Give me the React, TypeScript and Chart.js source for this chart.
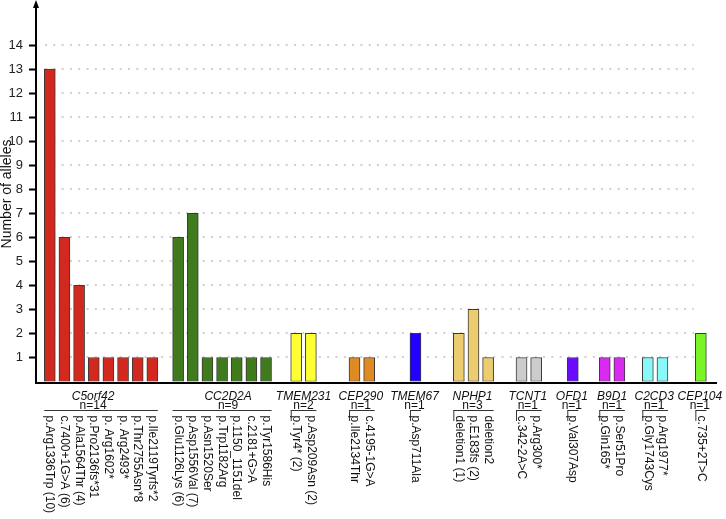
import React, { useEffect, useRef } from 'react';
import { Chart, registerables } from 'chart.js';

Chart.register(...registerables);

// ---------------- DATA ----------------
const genes = ['C5orf42', 'CC2D2A', 'TMEM231', 'CEP290', 'TMEM67', 'NPHP1', 'TCNT1', 'OFD1', 'B9D1', 'C2CD3', 'CEP104'];
const geneN = [14, 9, 2, 1, 1, 3, 1, 1, 1, 1, 1];

const c5orf42Variants = ['p.Arg1336Trp (10)', 'c.7400+1G>A (6)', 'p.Ala1564Thr (4)', 'p.Pro2136fs*31', 'p. Arg1602*', 'p. Arg2493*', 'p.Thr2755Asn*8', 'p.Ile2119Tyrfs*2'];
const c5orf42Alleles = [13, 6, 4, 1, 1, 1, 1, 1];

const cc2d2aVariants = ['p.Glu1126Lys (6)', 'p.Asp1556Val (7)', 'p.Asn1520Ser', 'p.Trp1182Arg', 'p.1150_1151del', 'c.2181+G>A', 'p.Tyr1586His'];
const cc2d2aAlleles = [6, 7, 1, 1, 1, 1, 1];

const tmem231Variants = ['p.Tyr4* (2)', 'p.Asp209Asn (2)'];
const tmem231Alleles = [2, 2];

const cep290Variants = ['p.Ile2134Thr', 'c.4195-1G>A'];
const cep290Alleles = [1, 1];

const tmem67Variants = ['p.Asp711Ala'];
const tmem67Alleles = [2];

const nphp1Variants = ['deletion1 (1)', 'p.E183fs (2)', 'deletion2'];
const nphp1Alleles = [2, 3, 1];

const tcnt1Variants = ['c.342-2A>C', 'p.Arg300*'];
const tcnt1Alleles = [1, 1];

const ofd1Variants = ['p.Val307Asp'];
const ofd1Alleles = [1];

const b9d1Variants = ['p.Gln165*', 'p.Ser51Pro'];
const b9d1Alleles = [1, 1];

const c2cd3Variants = ['p.Gly1743Cys', 'p.Arg1977*'];
const c2cd3Alleles = [1, 1];

const cep104Variants = ['c.735+2T>C'];
const cep104Alleles = [2];

const yTickValues = [1, 2, 3, 4, 5, 6, 7, 8, 9, 10, 11, 12, 13, 14];
const yTitle = 'Number of alleles';

const variantsByGene = [c5orf42Variants, cc2d2aVariants, tmem231Variants, cep290Variants, tmem67Variants, nphp1Variants, tcnt1Variants, ofd1Variants, b9d1Variants, c2cd3Variants, cep104Variants];
const allelesByGene = [c5orf42Alleles, cc2d2aAlleles, tmem231Alleles, cep290Alleles, tmem67Alleles, nphp1Alleles, tcnt1Alleles, ofd1Alleles, b9d1Alleles, c2cd3Alleles, cep104Alleles];

// ---------------- STYLE / LAYOUT ----------------
const geneColors = ['#d3281e', '#3f7b1c', '#ffff33', '#e08a24', '#2200ff', '#ebcd70', '#cccccc', '#6a0aff', '#d82af0', '#88f8f8', '#7af526'];
// extra spacing (in bar pitches) inserted before each gene group
const groupGap = [0, 0.76, 1.06, 1.98, 2.16, 1.96, 1.28, 1.5, 1.18, 0.94, 1.62];
// horizontal nudge (px) of gene name / n= text relative to the group centre
const groupLabelShift = [-8, 6, 0, -1, -1, -1, -1, -1, 0, -1, -1];

const CANVAS_W = 726;
const CANVAS_H = 519;
const PLOT_LEFT = 36;
const PLOT_RIGHT = 718;
const ZERO_Y = 381.5;
const TOP_Y = 2;
const Y14_PX = 34.3;
const BAR_PITCH = 14.65;
const FIRST_CENTER = 49.8;
const BAR_W = 11;
const TITLE_X = 7;
const TITLE_Y = 194;
const FONT = '"Liberation Sans", Arial, Helvetica, sans-serif';

const unitPx = (ZERO_Y - Y14_PX) / 14;
const yMax = (ZERO_Y - TOP_Y) / unitPx;
const xMin = -(FIRST_CENTER - PLOT_LEFT) / BAR_PITCH;
const xMax = xMin + (PLOT_RIGHT - PLOT_LEFT) / BAR_PITCH;

type Bar = { x: number; y: number; label: string; gene: number };
const bars: Bar[] = [];
const groups: { start: number; end: number }[] = [];
{
  let prevEnd = -1;
  genes.forEach((_, gi) => {
    const start = gi === 0 ? 0 : prevEnd + 1 + groupGap[gi];
    const vals = allelesByGene[gi];
    vals.forEach((v, j) => bars.push({ x: start + j, y: v, label: variantsByGene[gi][j], gene: gi }));
    const end = start + vals.length - 1;
    groups.push({ start, end });
    prevEnd = end;
  });
}

const annotate = {
  id: 'annotate',
  beforeDatasetsDraw(chart: any) {
    const { ctx } = chart;
    const ys = chart.scales.y;
    ctx.save();
    ctx.strokeStyle = '#d0d0d0';
    ctx.lineWidth = 2;
    ctx.setLineDash([2, 6.3]);
    for (const v of yTickValues) {
      const y = Math.round(ys.getPixelForValue(v));
      ctx.beginPath();
      ctx.moveTo(45, y);
      ctx.lineTo(694, y);
      ctx.stroke();
    }
    ctx.restore();
  },
  afterDraw(chart: any) {
    const { ctx } = chart;
    const xs = chart.scales.x;
    const ys = chart.scales.y;
    const y0 = ys.getPixelForValue(0);
    ctx.save();
    // axes
    ctx.strokeStyle = '#000';
    ctx.fillStyle = '#000';
    ctx.lineWidth = 2;
    ctx.beginPath();
    ctx.moveTo(PLOT_LEFT - 1, y0 + 1.5);
    ctx.lineTo(717, y0 + 1.5);
    ctx.stroke();
    ctx.beginPath();
    ctx.moveTo(PLOT_LEFT, y0 + 2.5);
    ctx.lineTo(PLOT_LEFT, 6);
    ctx.stroke();
    ctx.beginPath();
    ctx.moveTo(PLOT_LEFT, 0);
    ctx.lineTo(PLOT_LEFT - 3, 8);
    ctx.lineTo(PLOT_LEFT + 3, 8);
    ctx.closePath();
    ctx.fill();

    // y title
    ctx.save();
    ctx.fillStyle = '#111';
    ctx.font = `14px ${FONT}`;
    ctx.translate(TITLE_X, TITLE_Y);
    ctx.rotate(-Math.PI / 2);
    ctx.textAlign = 'center';
    ctx.textBaseline = 'middle';
    ctx.fillText(yTitle, 0, 0);
    ctx.restore();

    // group labels
    ctx.fillStyle = '#111';
    ctx.strokeStyle = '#333';
    ctx.lineWidth = 1;
    groups.forEach((g, gi) => {
      const left = xs.getPixelForValue(g.start) - BAR_W / 2;
      const right = xs.getPixelForValue(g.end) + BAR_W / 2;
      const cx = (left + right) / 2 + groupLabelShift[gi];
      ctx.textAlign = 'center';
      ctx.textBaseline = 'alphabetic';
      ctx.font = `italic 12px ${FONT}`;
      ctx.fillText(genes[gi], cx, 399.5);
      ctx.font = `12px ${FONT}`;
      ctx.fillText(`n=${geneN[gi]}`, cx, 408.5);
      ctx.beginPath();
      ctx.moveTo(left, 410.5);
      ctx.lineTo(right, 410.5);
      if (allelesByGene[gi].length <= 3) {
        ctx.moveTo(left + 0.5, 410.5);
        ctx.lineTo(left + 0.5, 421);
      }
      ctx.stroke();
    });

    // variant labels (rotated, reading downward)
    ctx.font = `12px ${FONT}`;
    ctx.fillStyle = '#111';
    bars.forEach((b) => {
      const px = xs.getPixelForValue(b.x);
      ctx.save();
      ctx.translate(px, 415.5);
      ctx.rotate(Math.PI / 2);
      ctx.textAlign = 'left';
      ctx.textBaseline = 'middle';
      ctx.fillText(b.label, 0, 0);
      ctx.restore();
    });
    ctx.restore();
  },
};

export default function App() {
  const ref = useRef<HTMLCanvasElement | null>(null);
  useEffect(() => {
    if (!ref.current) return;
    const chart = new Chart(ref.current, {
      type: 'bar',
      data: {
        datasets: [
          {
            data: bars.map((b) => ({ x: b.x, y: b.y })) as any,
            backgroundColor: bars.map((b) => geneColors[b.gene]),
            borderColor: '#3a3a3a',
            borderWidth: 1,
            borderSkipped: false,
            barThickness: BAR_W,
          } as any,
        ],
      },
      options: {
        animation: false,
        responsive: true,
        maintainAspectRatio: false,
        layout: { padding: { left: 0, right: CANVAS_W - PLOT_RIGHT, top: TOP_Y, bottom: CANVAS_H - ZERO_Y } },
        plugins: { legend: { display: false }, tooltip: { enabled: false }, title: { display: false } },
        scales: {
          x: { type: 'linear', display: false, min: xMin, max: xMax, offset: false, bounds: 'ticks', grid: { offset: false } },
          y: {
            type: 'linear',
            min: 0,
            max: yMax,
            afterFit: (s: any) => {
              s.width = PLOT_LEFT;
            },
            afterBuildTicks: (s: any) => {
              s.ticks = yTickValues.map((v) => ({ value: v }));
            },
            ticks: { font: { family: FONT, size: 13 }, color: '#222', padding: 6, autoSkip: false },
            grid: { display: true, drawOnChartArea: false, drawTicks: true, tickLength: 7, tickWidth: 2, tickColor: '#000' },
            border: { display: false },
            title: { display: false },
          },
        },
      } as any,
      plugins: [annotate],
    });
    return () => chart.destroy();
  }, []);
  return (
    <div style={{ position: 'fixed', left: 0, top: 0, width: CANVAS_W, height: CANVAS_H, background: '#fff' }}>
      <canvas ref={ref} />
    </div>
  );
}
